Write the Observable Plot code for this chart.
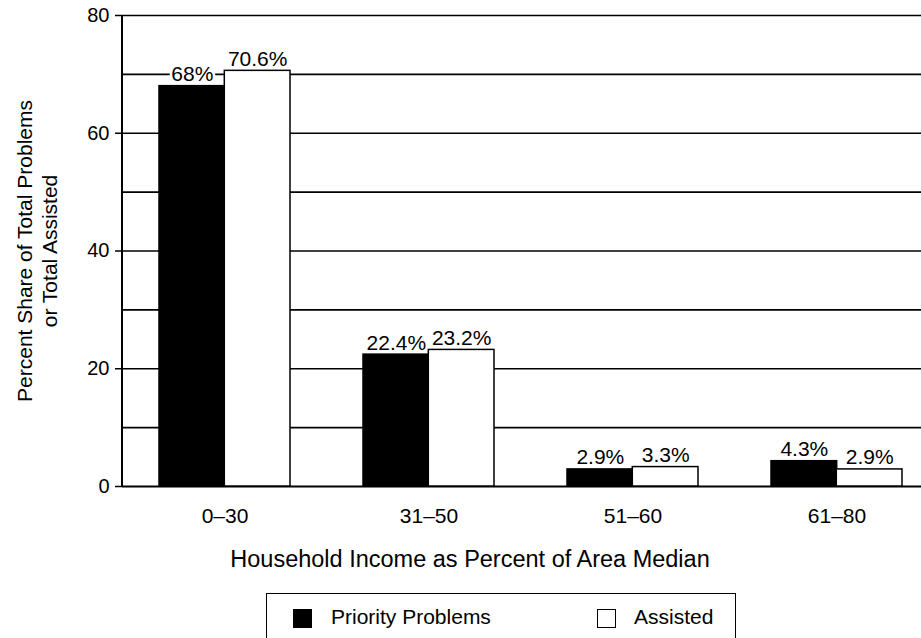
<!DOCTYPE html>
<html>
<head>
<meta charset="utf-8">
<script src="https://cdn.jsdelivr.net/npm/d3@7"></script>
<script src="https://cdn.jsdelivr.net/npm/@observablehq/plot@0.6"></script>
<style>
  html, body { margin: 0; padding: 0; background: #fff; overflow: hidden; }
  #chart { width: 921px; font-family: Arial, "Liberation Sans", Helvetica, sans-serif; color: #000; }
  #chart svg { display: block; }
  .legend { position: relative; margin-left: 266px; margin-top: 13px; width: 470px; height: 60px;
            border: 1.5px solid #000; border-bottom: none; box-sizing: border-box; font-size: 21px; }
  .legend .sw { position: absolute; top: 15px; width: 19px; height: 19px; box-sizing: border-box; }
  .legend .lb { position: absolute; top: 11px; line-height: 24px; white-space: nowrap; }
</style>
</head>
<body>
<div id="chart"></div>
<script>
// ---- data ----
const categories = ["0–30", "31–50", "51–60", "61–80"];
const priorityProblems = [68, 22.4, 2.9, 4.3];
const assisted = [70.6, 23.2, 3.3, 2.9];
const yTicks = [0, 20, 40, 60, 80];
const gridValues = [10, 20, 30, 40, 50, 60, 70, 80];
const seriesNames = ["Priority Problems", "Assisted"];
const seriesFills = ["#000", "#fff"];
const xTitle = "Household Income as Percent of Area Median";
const yTitle = ["Percent Share of Total Problems", "or Total Assisted"];

const rows = categories.map((c, i) => ({category: c, priority: priorityProblems[i], assisted: assisted[i]}));

// ---- layout ----
const W = 921, H = 580, ML = 122, MT = 15, MB = 94;
const half = 65.3;
const font = 'Arial, "Liberation Sans", Helvetica, sans-serif';

const yAxisLine = (index, scales, values, dimensions) => {
  const ns = "http://www.w3.org/2000/svg";
  const l = document.createElementNS(ns, "line");
  const y = scales.y;
  const x0 = dimensions.marginLeft;
  l.setAttribute("x1", x0); l.setAttribute("x2", x0);
  l.setAttribute("y1", y(0)); l.setAttribute("y2", y(80));
  l.setAttribute("stroke", "#000"); l.setAttribute("stroke-width", 2);
  return l;
};

const plot = Plot.plot({
  width: W, height: H,
  marginLeft: ML, marginRight: 0, marginTop: MT, marginBottom: MB,
  style: {fontFamily: font, fontSize: "20px", color: "#000", background: "#fff", overflow: "visible"},
  x: {domain: categories, range: [ML, 938], paddingInner: 0.36, paddingOuter: 0.18, axis: null},
  y: {domain: [0, 80], axis: null},
  marks: [
    Plot.ruleY(gridValues, {stroke: "#000", strokeWidth: 1.7}),
    Plot.ruleY([0], {stroke: "#000", strokeWidth: 2}),
    Plot.text(rows, {x: "category", y: "priority", text: d => d.priority + "%", dx: -half / 2, dy: -5, lineAnchor: "bottom", fontSize: 21, fill: "#000", stroke: "#fff", strokeWidth: 5}),
    Plot.text(rows, {x: "category", y: "assisted", text: d => d.assisted + "%", dx: half / 2, dy: -5, lineAnchor: "bottom", fontSize: 21, fill: "#000", stroke: "#fff", strokeWidth: 5}),
    Plot.barY(rows, {x: "category", y: "priority", fill: seriesFills[0], stroke: "#000", strokeWidth: 1.5, insetRight: half}),
    Plot.barY(rows, {x: "category", y: "assisted", fill: seriesFills[1], stroke: "#000", strokeWidth: 1.5, insetLeft: half}),
    Plot.axisY({ticks: yTicks, tickSize: 7, tickPadding: 6, fontSize: 20, label: null, tickFormat: d => String(d), strokeWidth: 1.5}),
    Plot.axisX({tickSize: 0, tickPadding: 22, fontSize: 21, label: null}),
    yAxisLine,
    Plot.text([xTitle], {frameAnchor: "bottom", dx: -52, dy: 80, lineAnchor: "bottom", fontSize: 23.5, fill: "#000"}),
    Plot.text([yTitle.join("\n")], {frameAnchor: "left", rotate: -90, dx: -86, lineHeight: 1.2, lineAnchor: "middle", textAnchor: "middle", fontSize: 21, fill: "#000"})
  ]
});

const chart = document.getElementById("chart");
chart.appendChild(plot);

// ---- legend (HTML, below the SVG) ----
const legend = document.createElement("div");
legend.className = "legend";
const swLeft = [26, 330], lbLeft = [64, 367];
seriesNames.forEach((name, i) => {
  const sw = document.createElement("div");
  sw.className = "sw";
  sw.style.left = swLeft[i] + "px";
  sw.style.background = seriesFills[i];
  sw.style.border = "1.5px solid #000";
  const lb = document.createElement("div");
  lb.className = "lb";
  lb.style.left = lbLeft[i] + "px";
  lb.textContent = name;
  legend.appendChild(sw);
  legend.appendChild(lb);
});
chart.appendChild(legend);
</script>
</body>
</html>
